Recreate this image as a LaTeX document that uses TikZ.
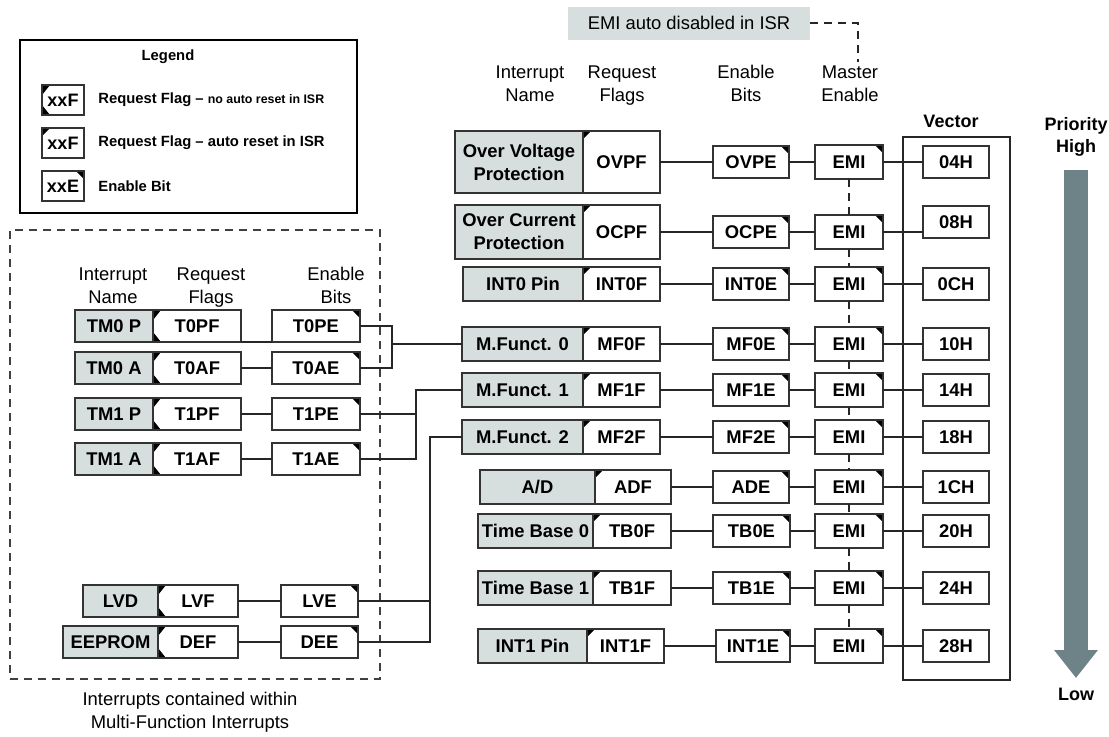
\documentclass[tikz,border=0pt]{standalone}
\usepackage{fontspec}
\setmainfont{Liberation Sans}
\usepackage{tikz}
\usetikzlibrary{arrows.meta,positioning}
\definecolor{namegray}{RGB}{214,222,222}
\definecolor{prgray}{RGB}{110,131,135}
\tikzset{
  cellbox/.style={rectangle, draw=black!80, line width=0.65pt, inner sep=1pt, outer sep=0pt,
                  align=center, minimum height=17pt, font=\bfseries\fontsize{9.2}{11.5}\selectfont},
  namebox/.style={cellbox, fill=namegray},
  flagauto/.style={cellbox, fill=white, path picture={
      \fill[black] (path picture bounding box.north west) -- ++(4pt,0) -- ++(-4pt,-4pt) -- cycle;}},
  flagman/.style={cellbox, fill=white, path picture={
      \fill[black] (path picture bounding box.north west) -- ++(4pt,0) -- ++(-4pt,-5pt) -- cycle;
      \fill[black] (path picture bounding box.south west) -- ++(4pt,0) -- ++(-4pt,5pt) -- cycle;}},
  enbox/.style={cellbox, fill=white, minimum height=16pt, path picture={
      \fill[black] (path picture bounding box.north east) -- ++(-4pt,0) -- ++(4pt,-4pt) -- cycle;}},
  emibox/.style={enbox, minimum width=34pt, minimum height=17pt},
  vecbox/.style={cellbox, fill=white, minimum width=33pt, minimum height=16pt},
  hdr/.style={align=center, inner sep=0pt, font=\fontsize{9.2}{11.5}\selectfont},
  colhdr/.style={hdr, anchor=north},
  hdrb/.style={hdr, font=\bfseries\fontsize{9}{11}\selectfont},
  legtext/.style={anchor=west, inner sep=0pt, font=\bfseries\fontsize{7.4}{9}\selectfont},
  iconbox/.style={minimum width=21pt, minimum height=15pt, font=\bfseries\fontsize{9}{10}\selectfont},
  wire/.style={draw=black!85, line width=0.6pt},
  dashwire/.style={wire, dash pattern=on 4pt off 3pt},
  prarrow/.style={draw=prgray, line width=12pt, -{Triangle[width=21pt,length=14pt,fill=prgray]}},
}

\begin{document}
\begin{tikzpicture}[x=0.5pt, y=-0.5pt]
  \useasboundingbox (0,0) rectangle (1109,736);

  % legend
  \node[draw=black, line width=1pt, minimum width=168.5pt, minimum height=86.5pt] (legend) at (188.5,126.5) {};
  \node[legtext, anchor=center] (legt) at (168,57) {Legend};
  \node[flagman, iconbox] (lg1) at (63,100) {xxF};
  \node[flagauto, iconbox] (lg2) at (63,143) {xxF};
  \node[enbox, iconbox] (lg3) at (63,186) {xxE};
  \node[legtext] (lgt1) at (98,100) {Request Flag -- {\fontsize{6.2}{7}\selectfont no auto reset in ISR}};
  \node[legtext] (lgt2) at (98,143) {Request Flag -- auto reset in ISR};
  \node[legtext] (lgt3) at (98,186) {Enable Bit};

  % multi-function group
  \node[draw=black!75, line width=0.6pt, dash pattern=on 4pt off 3pt,
        minimum width=185pt, minimum height=224.5pt] (mfgroup) at (195,454.5) {};
  \node[hdr] (mfcap) at (190,712) {Interrupts contained within\\Multi-Function Interrupts};
  \node[colhdr] (lin) at (113,267) {Interrupt\\Name};
  \node[colhdr] (lrf) at (211,267) {Request\\Flags};
  \node[colhdr] (leb) at (336,267) {Enable\\Bits};

  \node[namebox, minimum width=39pt, minimum height=16pt] (tm0p) at (114,326) {TM0 P};
  \node[flagman, minimum width=44pt, minimum height=16pt, right=0pt of tm0p] (t0pf) {T0PF};
  \node[enbox, minimum width=44pt] (t0pe) at (316,326) {T0PE};
  \node[namebox, minimum width=39pt, minimum height=16pt] (tm0a) at (114,368) {TM0 A};
  \node[flagman, minimum width=44pt, minimum height=16pt, right=0pt of tm0a] (t0af) {T0AF};
  \node[enbox, minimum width=44pt] (t0ae) at (316,368) {T0AE};
  \node[namebox, minimum width=39pt, minimum height=16pt] (tm1p) at (114,414) {TM1 P};
  \node[flagman, minimum width=44pt, minimum height=16pt, right=0pt of tm1p] (t1pf) {T1PF};
  \node[enbox, minimum width=44pt] (t1pe) at (316,414) {T1PE};
  \node[namebox, minimum width=39pt, minimum height=16pt] (tm1a) at (114,459) {TM1 A};
  \node[flagman, minimum width=44pt, minimum height=16pt, right=0pt of tm1a] (t1af) {T1AF};
  \node[enbox, minimum width=44pt] (t1ae) at (316,459) {T1AE};
  \node[namebox, minimum width=37.5pt, minimum height=16pt] (lvd) at (120.5,601) {LVD};
  \node[flagman, minimum width=40pt, minimum height=16pt, right=0pt of lvd] (lvf) {LVF};
  \node[enbox, minimum width=38.5pt] (lve) at (319.5,601) {LVE};
  \node[namebox, minimum width=47.5pt, minimum height=16pt] (eep) at (110.5,642) {EEPROM};
  \node[flagman, minimum width=40pt, minimum height=16pt, right=0pt of eep] (def) {DEF};
  \node[enbox, minimum width=38.5pt] (dee) at (319.5,642) {DEE};

  % main interrupt table
  \node[hdr, fill=namegray, minimum width=121pt, minimum height=16.5pt] (isr) at (689,23) {EMI auto disabled in ISR};
  \node[colhdr] (hin) at (530,65) {Interrupt\\Name};
  \node[colhdr] (hrf) at (622,65) {Request\\Flags};
  \node[colhdr] (heb) at (746,65) {Enable\\Bits};
  \node[colhdr] (hme) at (850,65) {Master\\Enable};
  \node[hdrb] (vech) at (951,121) {Vector};
  \node[draw=black!85, line width=0.65pt, minimum width=53.5pt, minimum height=271.5pt] (vframe) at (956.5,408.5) {};

  \node[namebox, minimum width=64pt, minimum height=31pt] (ovp) at (519,162) {Over Voltage\\Protection};
  \node[flagauto, minimum width=38.5pt, minimum height=31pt, right=0pt of ovp] (ovpf) {OVPF};
  \node[enbox, minimum width=38pt] (ovpe) at (751,162) {OVPE};
  \node[emibox] (emi1) at (849,162) {EMI};
  \node[vecbox] (v04) at (956,162) {04H};

  \node[namebox, minimum width=64pt, minimum height=27pt] (ocp) at (519,232) {Over Current\\Protection};
  \node[flagauto, minimum width=38.5pt, minimum height=27pt, right=0pt of ocp] (ocpf) {OCPF};
  \node[enbox, minimum width=38pt] (ocpe) at (751,232) {OCPE};
  \node[emibox] (emi2) at (849,232) {EMI};
  \node[vecbox] (v08) at (956,222) {08H};

  \node[namebox, minimum width=60pt] (int0) at (523,284) {INT0 Pin};
  \node[flagauto, minimum width=38.5pt, right=0pt of int0] (int0f) {INT0F};
  \node[enbox, minimum width=38pt] (int0e) at (751,284) {INT0E};
  \node[emibox] (emi3) at (849,284) {EMI};
  \node[vecbox] (v0c) at (956,284) {0CH};

  \node[namebox, minimum width=60.5pt] (mf0) at (522.5,344) {M.Funct. 0};
  \node[flagauto, minimum width=38.5pt, right=0pt of mf0] (mf0f) {MF0F};
  \node[enbox, minimum width=38pt] (mf0e) at (751,344) {MF0E};
  \node[emibox] (emi4) at (849,344) {EMI};
  \node[vecbox] (v10) at (956,344) {10H};

  \node[namebox, minimum width=60.5pt] (mf1) at (522.5,390) {M.Funct. 1};
  \node[flagauto, minimum width=38.5pt, right=0pt of mf1] (mf1f) {MF1F};
  \node[enbox, minimum width=38pt] (mf1e) at (751,390) {MF1E};
  \node[emibox] (emi5) at (849,390) {EMI};
  \node[vecbox] (v14) at (956,390) {14H};

  \node[namebox, minimum width=60.5pt] (mf2) at (522.5,437) {M.Funct. 2};
  \node[flagauto, minimum width=38.5pt, right=0pt of mf2] (mf2f) {MF2F};
  \node[enbox, minimum width=38pt] (mf2e) at (751,437) {MF2E};
  \node[emibox] (emi6) at (849,437) {EMI};
  \node[vecbox] (v18) at (956,437) {18H};

  \node[namebox, minimum width=57.5pt] (adc) at (537.5,487) {A/D};
  \node[flagauto, minimum width=38pt, right=0pt of adc] (adf) {ADF};
  \node[enbox, minimum width=38pt] (ade) at (751,487) {ADE};
  \node[emibox] (emi7) at (849,487) {EMI};
  \node[vecbox] (v1c) at (956,487) {1CH};

  \node[namebox, minimum width=57.5pt] (tb0) at (535.5,531) {Time Base 0};
  \node[flagauto, minimum width=39pt, right=0pt of tb0] (tb0f) {TB0F};
  \node[enbox, minimum width=38.5pt] (tb0e) at (751.5,531) {TB0E};
  \node[emibox] (emi8) at (849,531) {EMI};
  \node[vecbox] (v20) at (956,531) {20H};

  \node[namebox, minimum width=57.5pt] (tb1) at (535.5,588) {Time Base 1};
  \node[flagauto, minimum width=39pt, right=0pt of tb1] (tb1f) {TB1F};
  \node[enbox, minimum width=38.5pt] (tb1e) at (751.5,588) {TB1E};
  \node[emibox] (emi9) at (849,588) {EMI};
  \node[vecbox] (v24) at (956,588) {24H};

  \node[namebox, minimum width=54.5pt] (int1) at (532.5,646) {INT1 Pin};
  \node[flagauto, minimum width=38.5pt, right=0pt of int1] (int1f) {INT1F};
  \node[enbox, minimum width=37pt] (int1e) at (753,646) {INT1E};
  \node[emibox] (emi10) at (849,646) {EMI};
  \node[vecbox] (v28) at (956,646) {28H};

  % priority
  \node[hdrb] (prh) at (1076,137) {Priority\\High};
  \node[hdrb] (prl) at (1076,694) {Low};
  \coordinate (pa) at (1076,170);
  \coordinate (pb) at (1076,678);
  \draw[prarrow] (pa) -- (pb);

  % connections
  \coordinate (jA) at (392,344);
  \coordinate (jB) at (416,390);
  \coordinate (jC) at (430,437);
  \coordinate (mtop) at (858,62);
  \draw[wire] (t0pf.south east) -- (t0pe.south west);
  \draw[wire] (t0af) -- (t0ae);
  \draw[wire] (t1pf) -- (t1pe);
  \draw[wire] (t1af) -- (t1ae);
  \draw[wire] (lvf) -- (lve);
  \draw[wire] (def) -- (dee);
  \draw[wire] (t0pe.east) -| (jA);
  \draw[wire] (t0ae.east) -| (jA) -- (mf0);
  \draw[wire] (t1pe.east) -- (t1pe.east -| jB);
  \draw[wire] (t1ae.east) -| (jB) -- (mf1);
  \draw[wire] (lve.east) -- (lve.east -| jC);
  \draw[wire] (dee.east) -| (jC) -- (mf2);

  \draw[wire] (ovpf) -- (ovpe);
  \draw[wire] (ocpf) -- (ocpe);
  \draw[wire] (int0f) -- (int0e);
  \draw[wire] (mf0f) -- (mf0e);
  \draw[wire] (mf1f) -- (mf1e);
  \draw[wire] (mf2f) -- (mf2e);
  \draw[wire] (adf) -- (ade);
  \draw[wire] (tb0f) -- (tb0e);
  \draw[wire] (tb1f) -- (tb1e);
  \draw[wire] (int1f) -- (int1e);

  \draw[wire] (ovpe) -- (emi1);
  \draw[wire] (ocpe) -- (emi2);
  \draw[wire] (int0e) -- (emi3);
  \draw[wire] (mf0e) -- (emi4);
  \draw[wire] (mf1e) -- (emi5);
  \draw[wire] (mf2e) -- (emi6);
  \draw[wire] (ade) -- (emi7);
  \draw[wire] (tb0e) -- (emi8);
  \draw[wire] (tb1e) -- (emi9);
  \draw[wire] (int1e) -- (emi10);

  \draw[wire] (emi1) -- (v04);
  \draw[wire] (emi2.east) -- (emi2.east -| v08.west);
  \draw[wire] (emi3) -- (v0c);
  \draw[wire] (emi4) -- (v10);
  \draw[wire] (emi5) -- (v14);
  \draw[wire] (emi6) -- (v18);
  \draw[wire] (emi7) -- (v1c);
  \draw[wire] (emi8) -- (v20);
  \draw[wire] (emi9) -- (v24);
  \draw[wire] (emi10) -- (v28);

  \draw[dashwire] (isr.east) -| (mtop);
  \foreach \a/\b in {emi1/emi2, emi2/emi3, emi3/emi4, emi4/emi5, emi5/emi6,
                     emi6/emi7, emi7/emi8, emi8/emi9, emi9/emi10}
    \draw[dashwire] (\a) -- (\b);
\end{tikzpicture}
\end{document}
